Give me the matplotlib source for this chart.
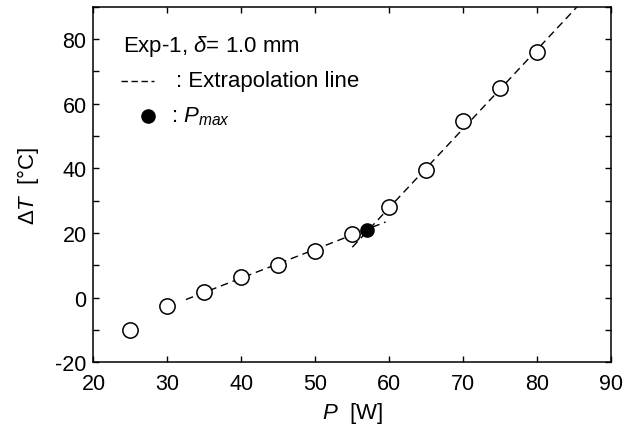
import matplotlib
matplotlib.use('Agg')
import matplotlib.pyplot as plt
from matplotlib.ticker import MultipleLocator

plt.rcParams['font.family'] = ['Liberation Sans', 'DejaVu Sans']
plt.rcParams['mathtext.fontset'] = 'custom'
plt.rcParams['mathtext.rm'] = 'Liberation Sans'
plt.rcParams['mathtext.it'] = 'Liberation Sans:italic'
plt.rcParams['axes.unicode_minus'] = False

# measured points (open circles)
power = [25, 30, 35, 40, 45, 50, 55, 60, 65, 70, 75, 80]
delta_t = [-9.9, -2.6, 1.8, 6.3, 10.0, 14.4, 19.8, 27.9, 39.5, 54.8, 64.9, 76.0]

# P_max point (filled)
pmax_x = [57]
pmax_y = [20.8]

# extrapolation lines
low_x = [32.5, 59.5]
low_y = [-0.6, 23.4]
high_x = [55, 86]
high_y = [15.6, 91.5]

fig = plt.figure(figsize=(6.23, 4.35), dpi=100)
ax = fig.add_axes([0.150, 0.165, 0.831, 0.817])

ax.plot(low_x, low_y, color='black', lw=1.0, dashes=(5.5, 3.5))
ax.plot(high_x, high_y, color='black', lw=1.0, dashes=(5.5, 3.5))
ax.plot(power, delta_t, 'o', ms=11, mfc='white', mec='black', mew=1.1, zorder=3)
ax.plot(pmax_x, pmax_y, 'o', ms=9.5, mfc='black', mec='black', zorder=4)

ax.set_xlim(20, 90)
ax.set_ylim(-20, 90)
ax.xaxis.set_major_locator(MultipleLocator(10))
ax.yaxis.set_major_locator(MultipleLocator(20))
ax.yaxis.set_minor_locator(MultipleLocator(10))
ax.tick_params(which='both', direction='in', top=True, right=True,
               length=4.5, width=1.0, labelsize=15.5)
ax.tick_params(axis='x', pad=8)
ax.tick_params(axis='y', pad=5)
for s in ax.spines.values():
    s.set_linewidth(1.1)

ax.set_xlabel(r'$\mathit{P}$  [W]', fontsize=16, labelpad=4)
ax.set_ylabel(r'$\mathit{\Delta T}$  [°C]', fontsize=16, labelpad=10)

# annotation block in the upper left
ax.text(0.057, 0.89, r'Exp-1, $\mathit{\delta}$= 1.0 mm', transform=ax.transAxes,
        fontsize=16, va='center', ha='left')
ax.plot([0.053, 0.117], [0.792, 0.792], transform=ax.transAxes, color='black',
        lw=1.0, dashes=(4.6, 2.6))
ax.text(0.159, 0.792, ': Extrapolation line', transform=ax.transAxes,
        fontsize=16, va='center', ha='left')
ax.plot([0.106], [0.693], 'o', ms=9.5, color='black', transform=ax.transAxes)
ax.text(0.150, 0.693, r': $\mathit{P_{max}}$', transform=ax.transAxes,
        fontsize=16, va='center', ha='left')

fig.savefig('out.png', dpi=100)
